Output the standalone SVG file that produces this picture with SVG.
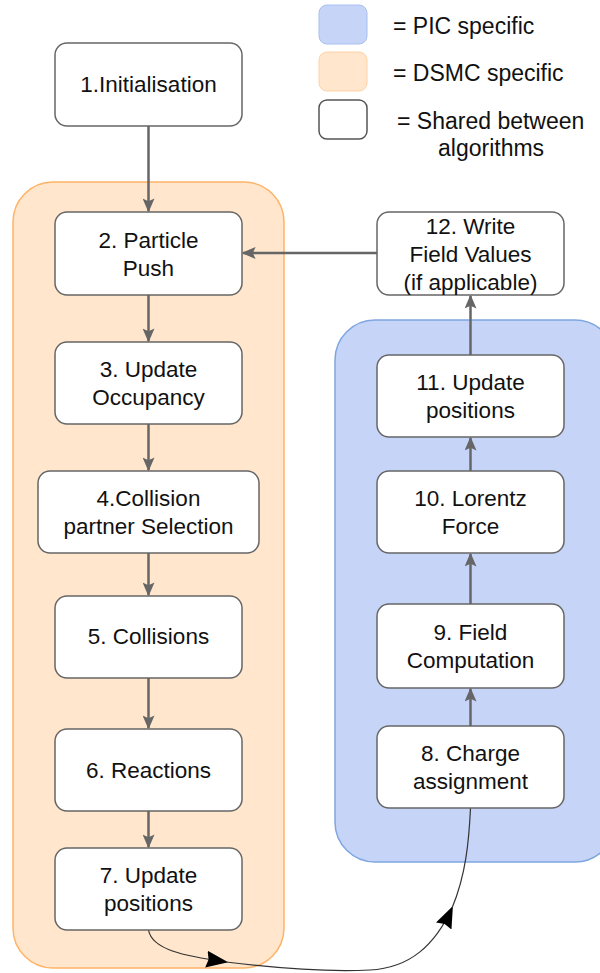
<svg xmlns="http://www.w3.org/2000/svg" width="600" height="973" viewBox="0 0 600 973">
<defs>
<style>
.node rect{fill:#ffffff;stroke:#666666;stroke-width:1.5}
text{font-family:"Liberation Sans",Arial,sans-serif;font-size:22.5px;fill:#111111;text-anchor:middle}
.leg{text-anchor:start;font-size:23px}
.e{fill:none;stroke:#666666;stroke-width:2.5}
.c{fill:none;stroke:#333333;stroke-width:1.2}
</style>
<marker id="ah" viewBox="0 0 10 10" refX="9" refY="5" markerWidth="14" markerHeight="12" orient="auto" markerUnits="userSpaceOnUse" preserveAspectRatio="none">
<path d="M0,0 L10,5 L0,10 L2,5 Z" fill="#666666"/>
</marker>
<marker id="ab" viewBox="0 0 10 10" refX="9" refY="5" markerWidth="22" markerHeight="17" orient="auto" markerUnits="userSpaceOnUse" preserveAspectRatio="none">
<path d="M0,0 L10,5 L0,10 L1,5 Z" fill="#000000"/>
</marker>
</defs>
<rect width="600" height="973" fill="#ffffff"/>

<g id="legend">
<rect x="319" y="5" width="48" height="39" rx="8" fill="#c6d5f7" stroke="#a9bff0" stroke-width="1"/>
<rect x="319" y="52" width="48" height="39" rx="8" fill="#ffe6cc" stroke="#ffd2a6" stroke-width="1"/>
<rect x="319" y="100" width="48" height="39" rx="8" fill="#ffffff" stroke="#555555" stroke-width="1.5"/>
<text class="leg" x="393" y="34">= PIC specific</text>
<text class="leg" x="393" y="81">= DSMC specific</text>
<text class="leg" x="397" y="129">= Shared between</text>
<text class="leg" x="438" y="156">algorithms</text>
</g>

<g id="dsmc-group">
<rect x="13" y="182" width="271" height="786" rx="40" fill="#ffe6cc" stroke="#ffb366" stroke-width="1.5"/>
</g>
<g id="pic-group">
<rect x="335" y="320" width="280" height="542" rx="40" fill="#c6d5f7" stroke="#7ea6e0" stroke-width="1.5"/>
</g>

<g id="connectors">
<path class="e" d="M148.5,126 V211" marker-end="url(#ah)"/>
<path class="e" d="M148.5,295 V341" marker-end="url(#ah)"/>
<path class="e" d="M148.5,424 V470" marker-end="url(#ah)"/>
<path class="e" d="M148.5,553 V595" marker-end="url(#ah)"/>
<path class="e" d="M148.5,678 V728" marker-end="url(#ah)"/>
<path class="e" d="M148.5,811 V847" marker-end="url(#ah)"/>
<path class="e" d="M377,253 H243" marker-end="url(#ah)"/>
<path class="e" d="M470.5,355 V296" marker-end="url(#ah)"/>
<path class="e" d="M470.5,471 V438" marker-end="url(#ah)"/>
<path class="e" d="M470.5,604 V554" marker-end="url(#ah)"/>
<path class="e" d="M470.5,726 V689" marker-end="url(#ah)"/>
<path class="c" d="M148.5,930 C152,950 185,956 226,962" marker-end="url(#ab)"/>
<path class="c" d="M226,962 C290,970 330,972 370,970 C410,968 435,945 452,908" marker-end="url(#ab)"/>
<path class="c" d="M452,908 C466,875 469,840 470.5,808"/>
</g>

<g id="n1" class="node"><rect x="55" y="43" width="187" height="83" rx="12"/><text x="148.5" y="92">1.Initialisation</text></g>
<g id="n2" class="node"><rect x="55" y="212" width="187" height="83" rx="12"/><text x="148.5" y="248">2. Particle</text><text x="148.5" y="276">Push</text></g>
<g id="n3" class="node"><rect x="55" y="342" width="187" height="82" rx="12"/><text x="148.5" y="377">3. Update</text><text x="148.5" y="405">Occupancy</text></g>
<g id="n4" class="node"><rect x="38" y="471" width="221" height="82" rx="12"/><text x="148.5" y="506">4.Collision</text><text x="148.5" y="534">partner Selection</text></g>
<g id="n5" class="node"><rect x="55" y="596" width="187" height="82" rx="12"/><text x="148.5" y="644">5. Collisions</text></g>
<g id="n6" class="node"><rect x="55" y="729" width="187" height="82" rx="12"/><text x="148.5" y="778">6. Reactions</text></g>
<g id="n7" class="node"><rect x="55" y="848" width="187" height="82" rx="12"/><text x="148.5" y="883">7. Update</text><text x="148.5" y="911">positions</text></g>
<g id="n12" class="node"><rect x="377" y="212" width="187" height="83" rx="12"/><text x="470.5" y="234">12. Write</text><text x="470.5" y="262">Field Values</text><text x="470.5" y="290">(if applicable)</text></g>
<g id="n11" class="node"><rect x="377" y="355" width="187" height="82" rx="12"/><text x="470.5" y="390">11. Update</text><text x="470.5" y="418">positions</text></g>
<g id="n10" class="node"><rect x="377" y="471" width="187" height="82" rx="12"/><text x="470.5" y="506">10. Lorentz</text><text x="470.5" y="534">Force</text></g>
<g id="n9" class="node"><rect x="377" y="604" width="187" height="84" rx="12"/><text x="470.5" y="640">9. Field</text><text x="470.5" y="668">Computation</text></g>
<g id="n8" class="node"><rect x="377" y="726" width="187" height="82" rx="12"/><text x="470.5" y="761">8. Charge</text><text x="470.5" y="789">assignment</text></g>
</svg>
